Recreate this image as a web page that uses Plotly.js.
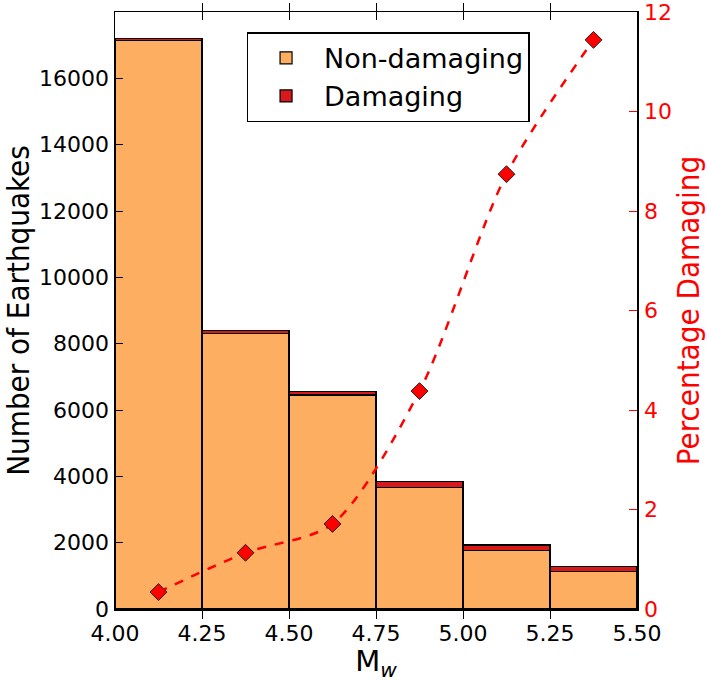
<!DOCTYPE html>
<html>
<head>
<meta charset="utf-8">
<script src="https://cdn.plot.ly/plotly-3.0.1.min.js"></script>
<style>html,body{margin:0;padding:0;background:#fff;}#chart{width:707px;height:682px;}</style>
</head>
<body>
<div id="chart"></div>
<script>
// Magnitude bin centres (bins of width 0.25 from 4.00 to 5.50)
var binCenters = [4.125, 4.375, 4.625, 4.875, 5.125, 5.375];
var binWidth = 0.25;
var nonDamaging = [17145, 8310, 6450, 3665, 1762, 1142];
var damaging = [58, 95, 112, 168, 169, 148];
var percentDamaging = [0.34, 1.13, 1.71, 4.38, 8.74, 11.44];
var xTicks = [4.00, 4.25, 4.50, 4.75, 5.00, 5.25, 5.50];
var pctTicks = [0, 2, 4, 6, 8, 10, 12];

var font = "DejaVu Sans, sans-serif";
var traces = [
  {type:'bar', name:'Non-damaging', x:binCenters, y:nonDamaging, width:binWidth,
   marker:{color:'#fdae61', line:{color:'#000', width:1.2}}},
  {type:'bar', name:'Damaging', x:binCenters, y:damaging, width:binWidth,
   marker:{color:'#d7191c', line:{color:'#000', width:1.2}}},
  {type:'scatter', mode:'lines+markers', x:binCenters, y:percentDamaging, yaxis:'y2',
   showlegend:false,
   line:{color:'#ff0000', width:2.5, dash:'dash', shape:'spline', smoothing:0.8},
   marker:{symbol:'diamond', size:13, color:'#ff0000', line:{color:'#222', width:1}}}
];
// right-axis tick labels placed beside the axis, in y2 data coordinates
var pctLabels = pctTicks.map(function(v){
  return {xref:'paper', x:1, yref:'y2', y:v, xanchor:'left', yanchor:'middle', xshift:5,
    text:String(v), showarrow:false, font:{family:font, size:22, color:'#ff0000'}};
});
var layout = {
  width:707, height:682,
  margin:{l:115, r:70, t:12, b:73},
  paper_bgcolor:'#fff', plot_bgcolor:'#fff',
  barmode:'stack', bargap:0,
  font:{family:font, size:22, color:'#000'},
  showlegend:true,
  legend:{x:0.252, y:0.966, xanchor:'left', yanchor:'top', traceorder:'normal',
    itemwidth:66, tracegroupgap:3,
    bgcolor:'#fff', bordercolor:'#000', borderwidth:1.5,
    font:{family:font, size:27, color:'#000'}},
  annotations:pctLabels,
  xaxis:{range:[4,5.5], tickvals:xTicks, ticktext:xTicks.map(function(v){return v.toFixed(2);}),
    ticks:'inside', ticklen:8, tickcolor:'#000', mirror:'allticks',
    showline:true, linecolor:'#000', linewidth:1.5, showgrid:false, zeroline:false,
    tickfont:{family:font, size:22}, ticklabelstandoff:4,
    title:{text:'M<sub><i>w</i></sub>', font:{family:font, size:29}, standoff:4}},
  yaxis:{range:[0,18000], dtick:2000, tickformat:'d', ticks:'inside', ticklen:8, tickcolor:'#000',
    showline:true, linecolor:'#000', linewidth:1.5, showgrid:false, zeroline:false, mirror:true,
    tickfont:{family:font, size:22},
    title:{text:'Number of Earthquakes', font:{family:"DejaVu Sans Condensed, DejaVu Sans, sans-serif", size:31}, standoff:2}},
  yaxis2:{overlaying:'y', side:'right', range:[0,12], ticks:'inside', ticklen:8,
    tickvals:pctTicks, showticklabels:false,
    tickcolor:'#ff0000', showgrid:false, zeroline:false, showline:false,
    title:{text:'Percentage Damaging', font:{family:"DejaVu Sans Condensed, DejaVu Sans, sans-serif", size:31, color:'#ff0000'}, standoff:40}}
};
Plotly.newPlot('chart', traces, layout, {displayModeBar:false, staticPlot:true});
</script>
</body>
</html>
